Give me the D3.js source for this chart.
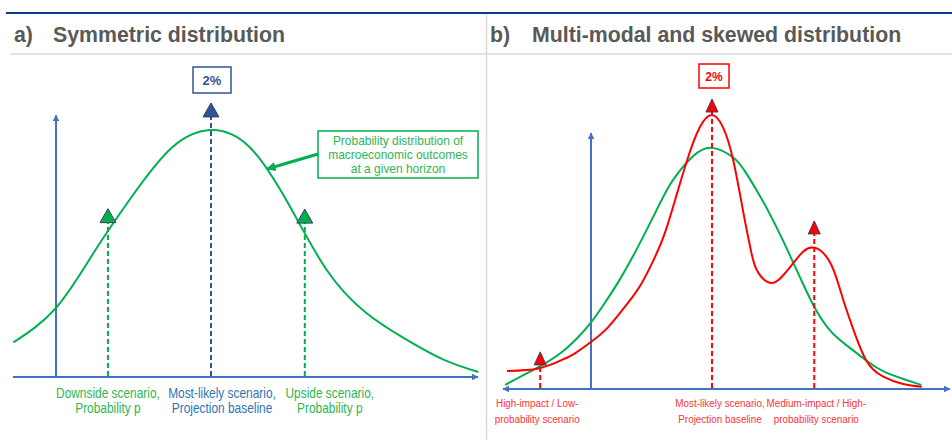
<!DOCTYPE html>
<html lang="en">
<head>
<meta charset="UTF-8">
<title>Symmetric vs multi-modal distribution</title>
<script src="https://d3js.org/d3.v7.min.js"></script>
<style>
  body { margin: 0; background: #fff; }
  svg text { font-family: "Liberation Sans", Arial, sans-serif; }
</style>
</head>
<body>
<svg id="chart" width="952" height="447"></svg>
<script>
// titles
const panelTags = ["a)", "b)"];
const panelTitles = ["Symmetric distribution", "Multi-modal and skewed distribution"];

// panel a: symmetric density (outcome in %, density relative to peak)
const symX = [-0.55, 0, 0.5, 1.0, 1.5, 2.0, 2.5, 3.0, 3.5, 4.0, 4.5, 5.0, 5.45];
const symY = [0.14, 0.28, 0.51, 0.74, 0.93, 1.0, 0.93, 0.70, 0.43, 0.26, 0.155, 0.07, 0.02];
const symScenarioX = [0.67, 2.0, 3.21];
const symScenarioTop = [0.625, 1.053, 0.623];
const symLabels = [["Downside scenario,", "Probability p"],
                   ["Most-likely scenario,", "Projection baseline"],
                   ["Upside scenario,", "Probability p"]];
const noteLines = ["Probability distribution of", "macroeconomic outcomes", "at a given horizon"];

// panel b: baseline (green) and skewed / multi-modal (red) densities
const baseX = [-1.42, -1.14, -0.81, -0.48, -0.21, 0, 0.23, 0.45, 0.67, 0.89, 1.14, 1.36, 1.69, 2.0, 2.35, 2.57, 2.84, 3.12, 3.31, 3.50, 3.70, 3.95, 4.22, 4.55, 4.88, 5.46];
const baseY = [0.015, 0.048, 0.087, 0.135, 0.19, 0.243, 0.315, 0.39, 0.475, 0.568, 0.678, 0.764, 0.85, 0.880, 0.845, 0.786, 0.686, 0.566, 0.477, 0.386, 0.296, 0.214, 0.16, 0.104, 0.06, 0.015];
const riskX = [-1.39, -0.87, -0.48, -0.26, 0, 0.28, 0.61, 0.84, 1.06, 1.22, 1.39, 1.59, 1.80, 2.0, 2.18, 2.35, 2.52, 2.63, 2.74, 2.95, 3.13, 3.32, 3.51, 3.67, 3.84, 4.01, 4.17, 4.34, 4.56, 4.83, 5.16, 5.47];
const riskY = [0.066, 0.075, 0.106, 0.131, 0.172, 0.225, 0.314, 0.387, 0.483, 0.569, 0.690, 0.836, 0.956, 1.0, 0.956, 0.836, 0.642, 0.519, 0.434, 0.388, 0.404, 0.453, 0.502, 0.516, 0.496, 0.434, 0.325, 0.215, 0.100, 0.045, 0.018, 0.008];
const riskScenarioX = [-0.84, 2.0, 3.69];
const riskScenarioTop = [0.088, 1.011, 0.566];
const riskLabels = [["High-impact / Low-", "probability scenario"],
                    ["Most-likely scenario,", "Projection baseline"],
                    ["Medium-impact / High-", "probability scenario"]];
const peakLabel = "2%";

const BLUE = "#4472C4", NAVY = "#2F5597", GREEN = "#00B050", GREEN_TXT = "#2DB653",
      RED = "#FF0000", GREY = "#595959";

const svg = d3.select("#chart");
const defs = svg.append("defs");
function arrowMarker(id, color, size) {
  defs.append("marker")
      .attr("id", id)
      .attr("viewBox", "0 0 10 10")
      .attr("refX", 9).attr("refY", 5)
      .attr("markerWidth", size).attr("markerHeight", size)
      .attr("orient", "auto-start-reverse")
    .append("path")
      .attr("d", "M0,0 L10,5 L0,10 z")
      .attr("fill", color);
}
arrowMarker("axArrow", BLUE, 3.5);
arrowMarker("noteArrow", GREEN, 3.2);

// frame: top rule, title underline, panel divider
svg.append("line").attr("x1", 6).attr("x2", 952).attr("y1", 13).attr("y2", 13)
   .attr("stroke", "#0B3A8E").attr("stroke-width", 2);
svg.append("line").attr("x1", 10).attr("x2", 952).attr("y1", 54).attr("y2", 54)
   .attr("stroke", "#d9d9d9").attr("stroke-width", 1.5);
svg.append("line").attr("x1", 486.5).attr("x2", 486.5).attr("y1", 14).attr("y2", 440)
   .attr("stroke", "#d9d9d9").attr("stroke-width", 1.5);

[14, 490].forEach((x0, i) => {
  const t = svg.append("text").attr("x", x0).attr("y", 42)
      .attr("font-size", 21.3).attr("font-weight", "bold").attr("fill", GREY);
  t.append("tspan").text(panelTags[i]);
  t.append("tspan").attr("x", x0 + 39 + (i ? 3 : 0)).text(panelTitles[i]);
});

const line = (xs, ys) => d3.line().curve(d3.curveNatural)
    .x(d => xs(d[0])).y(d => ys(d[1]));

function triangle(g, cx, baseY, w, h, fill) {
  g.append("path")
   .attr("d", `M${cx - w / 2},${baseY} L${cx + w / 2},${baseY} L${cx},${baseY - h} Z`)
   .attr("fill", fill).attr("stroke", "#3A3F5C").attr("stroke-width", 1);
}

// condensed text: squeeze horizontally, keep glyph height
function narrowText(g, cx, y, s, color, size, sx) {
  g.append("text")
   .attr("transform", `translate(${cx},${y}) scale(${sx},1)`)
   .attr("text-anchor", "middle").attr("font-size", size)
   .attr("fill", color).text(s);
}

// ---------- panel a ----------
{
  const x = d3.scaleLinear().domain([-0.555, 5.445]).range([13, 478]);
  const y = d3.scaleLinear().domain([0, 1]).range([377, 130]);
  const g = svg.append("g");

  // axes
  g.append("line").attr("x1", x(-0.555)).attr("x2", x(5.445)).attr("y1", y(0)).attr("y2", y(0))
   .attr("stroke", BLUE).attr("stroke-width", 2).attr("marker-end", "url(#axArrow)");
  g.append("line").attr("x1", x(0)).attr("x2", x(0)).attr("y1", y(0)).attr("y2", y(1.06))
   .attr("stroke", BLUE).attr("stroke-width", 2).attr("marker-end", "url(#axArrow)");

  // density
  g.append("path").datum(d3.zip(symX, symY))
   .attr("fill", "none").attr("stroke", GREEN).attr("stroke-width", 2)
   .attr("d", line(x, y));

  // scenarios
  const colors = [GREEN, NAVY, GREEN];
  const txtColors = [GREEN_TXT, "#2E75B6", GREEN_TXT];
  const labelShift = [0, 11, 25];
  symScenarioX.forEach((v, i) => {
    g.append("line").attr("x1", x(v)).attr("x2", x(v))
     .attr("y1", y(0) - 1).attr("y2", y(symScenarioTop[i]))
     .attr("stroke", colors[i]).attr("stroke-width", 2).attr("stroke-dasharray", "5,3");
    triangle(g, x(v), y(symScenarioTop[i]), 16, 14, colors[i]);
    symLabels[i].forEach((s, k) =>
      narrowText(g, x(v) + labelShift[i], 398 + k * 15, s, txtColors[i], 14, 0.85));
  });

  // 2% box
  const bx = x(2.0) + 1;
  g.append("rect").attr("x", bx - 19).attr("y", 67).attr("width", 38).attr("height", 26)
   .attr("fill", "#fff").attr("stroke", NAVY).attr("stroke-width", 1.5);
  g.append("text").attr("x", bx).attr("y", 85).attr("text-anchor", "middle")
   .attr("font-size", 13).attr("font-weight", "bold").attr("fill", NAVY).text(peakLabel);

  // annotation box + arrow
  g.append("rect").attr("x", 318).attr("y", 131).attr("width", 160).attr("height", 47)
   .attr("fill", "#fff").attr("stroke", GREEN).attr("stroke-width", 1.5);
  noteLines.forEach((s, k) => narrowText(g, 398, 145 + k * 14, s, GREEN_TXT, 13, 0.92));
  g.append("line").attr("x1", 318).attr("y1", 154).attr("x2", x(2.71) + 1).attr("y2", y(0.846) + 1)
   .attr("stroke", GREEN).attr("stroke-width", 3).attr("marker-end", "url(#noteArrow)");
}

// ---------- panel b ----------
{
  const x = d3.scaleLinear().domain([-1.455, 5.934]).range([503, 950]);
  const y = d3.scaleLinear().domain([0, 1]).range([389, 115]);
  const g = svg.append("g");

  g.append("line").attr("x1", x(-1.455)).attr("x2", x(5.934)).attr("y1", y(0)).attr("y2", y(0))
   .attr("stroke", BLUE).attr("stroke-width", 2)
   .attr("marker-start", "url(#axArrow)").attr("marker-end", "url(#axArrow)");
  g.append("line").attr("x1", x(0)).attr("x2", x(0)).attr("y1", y(0)).attr("y2", y(0.934))
   .attr("stroke", BLUE).attr("stroke-width", 2).attr("marker-end", "url(#axArrow)");

  g.append("path").datum(d3.zip(baseX, baseY))
   .attr("fill", "none").attr("stroke", GREEN).attr("stroke-width", 2)
   .attr("d", line(x, y));
  g.append("path").datum(d3.zip(riskX, riskY))
   .attr("fill", "none").attr("stroke", RED).attr("stroke-width", 2)
   .attr("d", line(x, y));

  const labelShift = [-3, 8, 2];
  riskScenarioX.forEach((v, i) => {
    g.append("line").attr("x1", x(v)).attr("x2", x(v))
     .attr("y1", y(0) - 1).attr("y2", y(riskScenarioTop[i]))
     .attr("stroke", RED).attr("stroke-width", 2).attr("stroke-dasharray", "5,3");
    triangle(g, x(v), y(riskScenarioTop[i]), 12, 13, RED);
    riskLabels[i].forEach((s, k) =>
      narrowText(g, x(v) + labelShift[i], 407 + k * 16, s, "#FF3333", 11.5, 0.86));
  });

  const bx = x(2.0) + 2;
  g.append("rect").attr("x", bx - 15).attr("y", 64).attr("width", 30).attr("height", 24)
   .attr("fill", "#fff").attr("stroke", RED).attr("stroke-width", 1.5);
  g.append("text").attr("x", bx).attr("y", 81).attr("text-anchor", "middle")
   .attr("font-size", 12).attr("font-weight", "bold").attr("fill", RED).text(peakLabel);
}
</script>
</body>
</html>
